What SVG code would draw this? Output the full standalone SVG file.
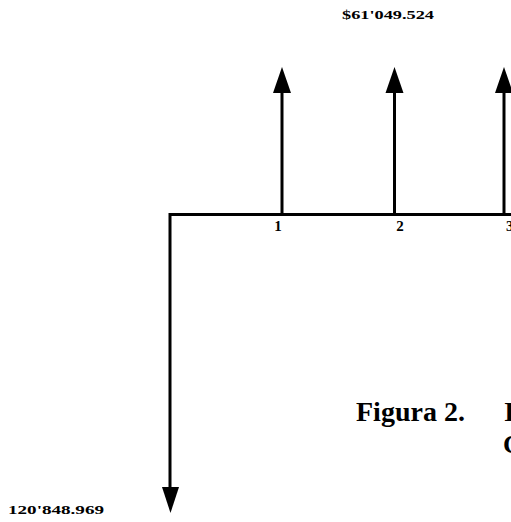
<svg xmlns="http://www.w3.org/2000/svg" width="511" height="522" viewBox="0 0 511 522">
<defs>
<style>
.ln{stroke:#000;stroke-width:3;fill:none}
.hd{fill:#000}
.lbl{font-family:"Liberation Serif","Times New Roman",serif;font-weight:bold;fill:#000}
</style>
</defs>
<rect width="511" height="522" fill="#fff"/>
<g id="connectors">
<path class="ln" d="M170,214.5 H511"/>
<path class="ln" d="M170,213 V490"/>
<polygon class="hd" points="162,487 179,487 170.5,513"/>
<path class="ln" d="M282,216 V90"/>
<polygon class="hd" points="273,93 291,93 282,67"/>
<path class="ln" d="M394.5,216 V90"/>
<polygon class="hd" points="385.5,93 403.5,93 394.5,67"/>
<path class="ln" d="M504,216 V90"/>
<polygon class="hd" points="495,93 513,93 504,67"/>
</g>
<g id="node-top-label"><text class="lbl" x="342" y="19" font-size="13" textLength="92" lengthAdjust="spacingAndGlyphs">$61'049.524</text></g>
<g id="node-bottom-label"><text class="lbl" x="8" y="514" font-size="13" textLength="96" lengthAdjust="spacingAndGlyphs">120'848.969</text></g>
<g id="node-t1"><text class="lbl" x="278" y="231" font-size="15" text-anchor="middle">1</text></g>
<g id="node-t2"><text class="lbl" x="400" y="231" font-size="15" text-anchor="middle">2</text></g>
<g id="node-t3"><text class="lbl" x="506" y="231" font-size="15">3</text></g>
<g id="node-caption"><text class="lbl" x="356" y="421" font-size="28">Figura 2.</text><text class="lbl" x="504" y="421" font-size="28">I</text></g>
<g id="node-caption2"><text class="lbl" x="503" y="453" font-size="26">C</text></g>
</svg>
